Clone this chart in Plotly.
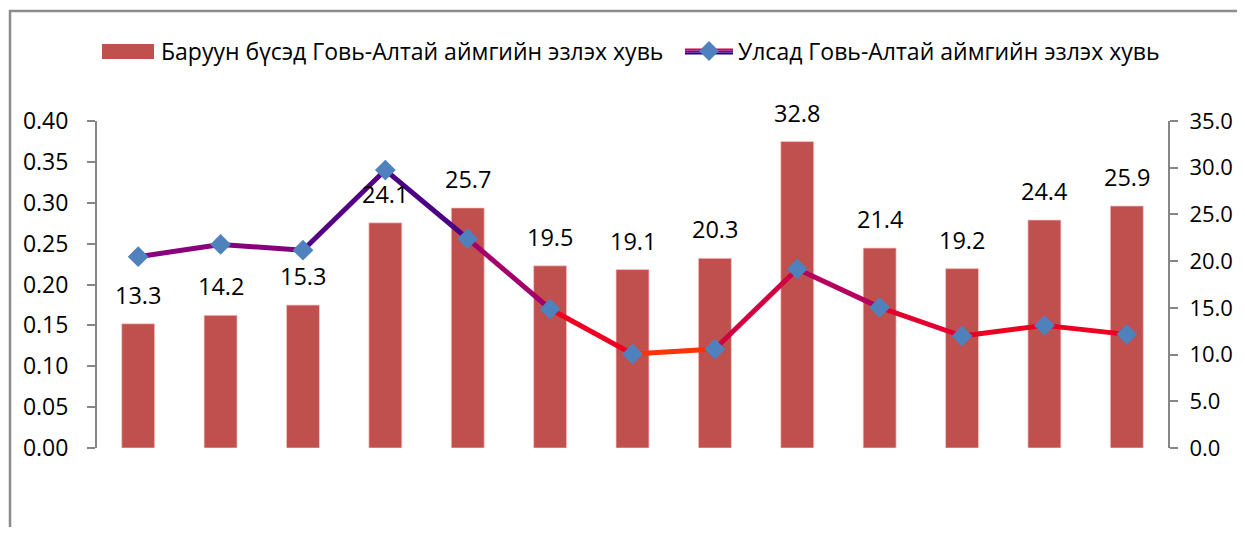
import plotly.graph_objects as go

categories = [str(i) for i in range(1, 14)]
bar_name = "Баруун бүсэд Говь-Алтай аймгийн эзлэх хувь"
line_name = "Улсад Говь-Алтай аймгийн эзлэх хувь"
bar_values = [13.3, 14.2, 15.3, 24.1, 25.7, 19.5, 19.1, 20.3, 32.8, 21.4, 19.2, 24.4, 25.9]
line_values = [0.234, 0.249, 0.242, 0.340, 0.256, 0.170, 0.115, 0.121, 0.219, 0.172, 0.137, 0.150, 0.139]

FONT = "Open Sans"
AX = "#868686"
BAR_C = "#C0504D"
MARK_C = "#4F81BD"

# page body has an 8px margin; geometry below is given in page pixels
OFF = 8
W, H = 1245 - 2 * OFF, 535 - 2 * OFF
L, R, T, B = 97, 1168, 121, 448  # plot area in page pixels


def px(x):
    return (x - L) / (R - L)


def py(y):
    return (B - y) / (B - T)


# colour stops (value -> rgb) to imitate the gradient line
stops = [(0.11, (255, 70, 0)), (0.14, (240, 0, 30)), (0.20, (176, 0, 100)),
         (0.25, (128, 0, 128)), (0.34, (30, 0, 140))]


def grad(v):
    if v <= stops[0][0]:
        c = stops[0][1]
    elif v >= stops[-1][0]:
        c = stops[-1][1]
    else:
        for (a, ca), (b, cb) in zip(stops, stops[1:]):
            if a <= v <= b:
                t = (v - a) / (b - a)
                c = tuple(round(ca[k] + (cb[k] - ca[k]) * t) for k in range(3))
                break
    return "rgb(%d,%d,%d)" % c


fig = go.Figure()
fig.add_trace(go.Bar(
    x=categories, y=bar_values, name=bar_name, yaxis="y",
    marker=dict(color=BAR_C, line=dict(color="rgba(255,200,200,0.7)", width=1)),
    width=0.4, showlegend=False,
))

for i in range(len(line_values) - 1):
    fig.add_trace(go.Scatter(
        x=categories[i:i + 2], y=line_values[i:i + 2], yaxis="y2", mode="lines",
        line=dict(color=grad((line_values[i] + line_values[i + 1]) / 2), width=5),
        showlegend=False, hoverinfo="skip",
    ))
fig.add_trace(go.Scatter(
    x=categories, y=line_values, yaxis="y2", mode="markers", name=line_name,
    marker=dict(symbol="diamond", size=16, color=MARK_C), showlegend=False,
    cliponaxis=False,
))

annotations = [dict(x=i, y=v, xref="x", yref="y", text=f"{v:.1f}", showarrow=False,
                    yanchor="bottom", yshift=11, font=dict(family=FONT, size=23.5, color="black"))
               for i, v in enumerate(bar_values)]

# custom legend
annotations += [
    dict(xref="paper", yref="paper", x=px(159), y=py(51), xanchor="left", yanchor="middle",
         text=bar_name, showarrow=False, font=dict(family=FONT, size=23, color="black")),
    dict(xref="paper", yref="paper", x=px(736), y=py(51), xanchor="left", yanchor="middle",
         text=line_name, showarrow=False, font=dict(family=FONT, size=23, color="black")),
]
dx, dy = 10 / (R - L), 10 / (B - T)
cx, cy = px(709), py(51)
shapes = [
    dict(type="rect", xref="paper", yref="paper", x0=px(10), x1=1.3,
         y0=-0.5, y1=py(11), line=dict(color="#8C8C8C", width=2.5), layer="below"),
    dict(type="rect", xref="paper", yref="paper", x0=px(102), x1=px(154), y0=py(59), y1=py(44),
         fillcolor=BAR_C, line=dict(width=0)),
    dict(type="line", xref="paper", yref="paper", x0=px(685), x1=px(733), y0=py(49.5), y1=py(49.5),
         line=dict(color="#D0005A", width=2)),
    dict(type="line", xref="paper", yref="paper", x0=px(685), x1=px(733), y0=py(51.5), y1=py(51.5),
         line=dict(color="#800080", width=2)),
    dict(type="line", xref="paper", yref="paper", x0=px(685), x1=px(733), y0=py(53.5), y1=py(53.5),
         line=dict(color="#20008C", width=2)),
    dict(type="path", xref="paper", yref="paper",
         path=f"M {cx - dx} {cy} L {cx} {cy + dy} L {cx + dx} {cy} L {cx} {cy - dy} Z",
         fillcolor=MARK_C, line=dict(width=0)),
]

fig.update_layout(
    width=W, height=H,
    margin=dict(l=L - OFF, r=W - (R - OFF), t=T - OFF, b=H - (B - OFF)),
    paper_bgcolor="white", plot_bgcolor="white",
    font=dict(family=FONT, size=23, color="black"),
    showlegend=False,
    bargap=0.6,
    xaxis=dict(range=[-0.5, 12.5], showticklabels=False, showline=False, ticks="",
               showgrid=False, zeroline=False, automargin=False),
    yaxis=dict(side="right", range=[0, 35], dtick=5, tickformat=".1f", showgrid=False,
               zeroline=False, showline=True, linecolor=AX, linewidth=2, ticks="outside",
               ticklen=8, tickcolor=AX, tickwidth=2, ticklabelstandoff=7, automargin=False,
               tickfont=dict(family=FONT, size=22, color="black")),
    yaxis2=dict(side="left", overlaying="y", range=[0, 0.4], dtick=0.05, tickformat=".2f",
                showgrid=False, zeroline=False, showline=True, linecolor=AX, linewidth=2,
                ticks="outside", ticklen=8, tickcolor=AX, tickwidth=2, ticklabelstandoff=14,
                automargin=False),
    annotations=annotations,
    shapes=shapes,
)

fig.write_html("out.html")
